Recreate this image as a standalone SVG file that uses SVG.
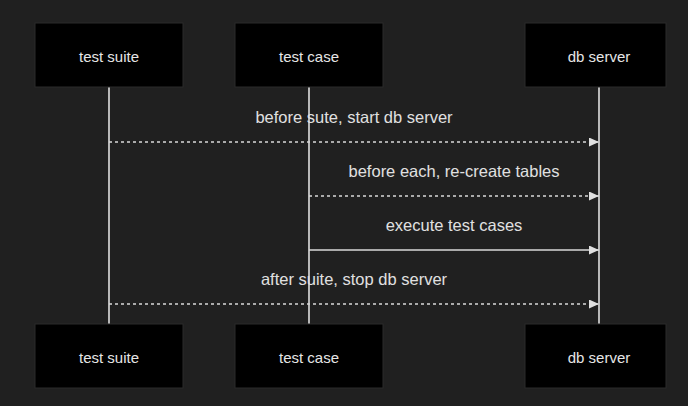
<svg xmlns="http://www.w3.org/2000/svg" width="688" height="406" viewBox="0 0 688 406">
<style>
.actor rect{fill:#000;stroke:#2a2a2a;stroke-width:1}
.actor text{fill:#e6e6e6;font-family:"Liberation Sans",Arial,sans-serif;font-size:15px;text-anchor:middle;dominant-baseline:central}
.life{stroke:#e0e0e0;stroke-width:1.6}
.msg{stroke:#d8d8d8;stroke-width:1.6;fill:none}
.dash{stroke-dasharray:3,3}
.lbl{fill:#e0e0e0;font-family:"Liberation Sans",Arial,sans-serif;font-size:16.5px;text-anchor:middle}
</style>
<defs>
<marker id="arr" markerWidth="10" markerHeight="9" refX="10" refY="4.5" orient="auto" markerUnits="userSpaceOnUse">
<path d="M0,0 L10,4.5 L0,9 Z" fill="#e0e0e0"/>
</marker>
</defs>
<rect width="688" height="406" fill="#202020"/>
<g id="lifelines">
<line class="life" x1="109" y1="87" x2="109" y2="324"/>
<line class="life" x1="309" y1="87" x2="309" y2="324"/>
<line class="life" x1="599" y1="87" x2="599" y2="324"/>
</g>
<g id="actor-suite-top" class="actor"><rect x="35" y="23" width="148" height="64"/><text x="109" y="56">test suite</text></g>
<g id="actor-case-top" class="actor"><rect x="235" y="23" width="148" height="64"/><text x="309" y="56">test case</text></g>
<g id="actor-db-top" class="actor"><rect x="525" y="23" width="141" height="64"/><text x="599" y="56">db server</text></g>
<g id="actor-suite-bottom" class="actor"><rect x="35" y="324" width="148" height="64"/><text x="109" y="357">test suite</text></g>
<g id="actor-case-bottom" class="actor"><rect x="235" y="324" width="148" height="64"/><text x="309" y="357">test case</text></g>
<g id="actor-db-bottom" class="actor"><rect x="525" y="324" width="141" height="64"/><text x="599" y="357">db server</text></g>
<g id="connectors">
<text class="lbl" x="354" y="123">before sute, start db server</text>
<line class="msg dash" x1="109" y1="142" x2="599" y2="142" marker-end="url(#arr)"/>
<text class="lbl" x="454" y="177">before each, re-create tables</text>
<line class="msg dash" x1="309" y1="196" x2="599" y2="196" marker-end="url(#arr)"/>
<text class="lbl" x="454" y="231">execute test cases</text>
<line class="msg" x1="309" y1="250" x2="599" y2="250" marker-end="url(#arr)"/>
<text class="lbl" x="354" y="285">after suite, stop db server</text>
<line class="msg dash" x1="109" y1="304" x2="599" y2="304" marker-end="url(#arr)"/>
</g>
</svg>
